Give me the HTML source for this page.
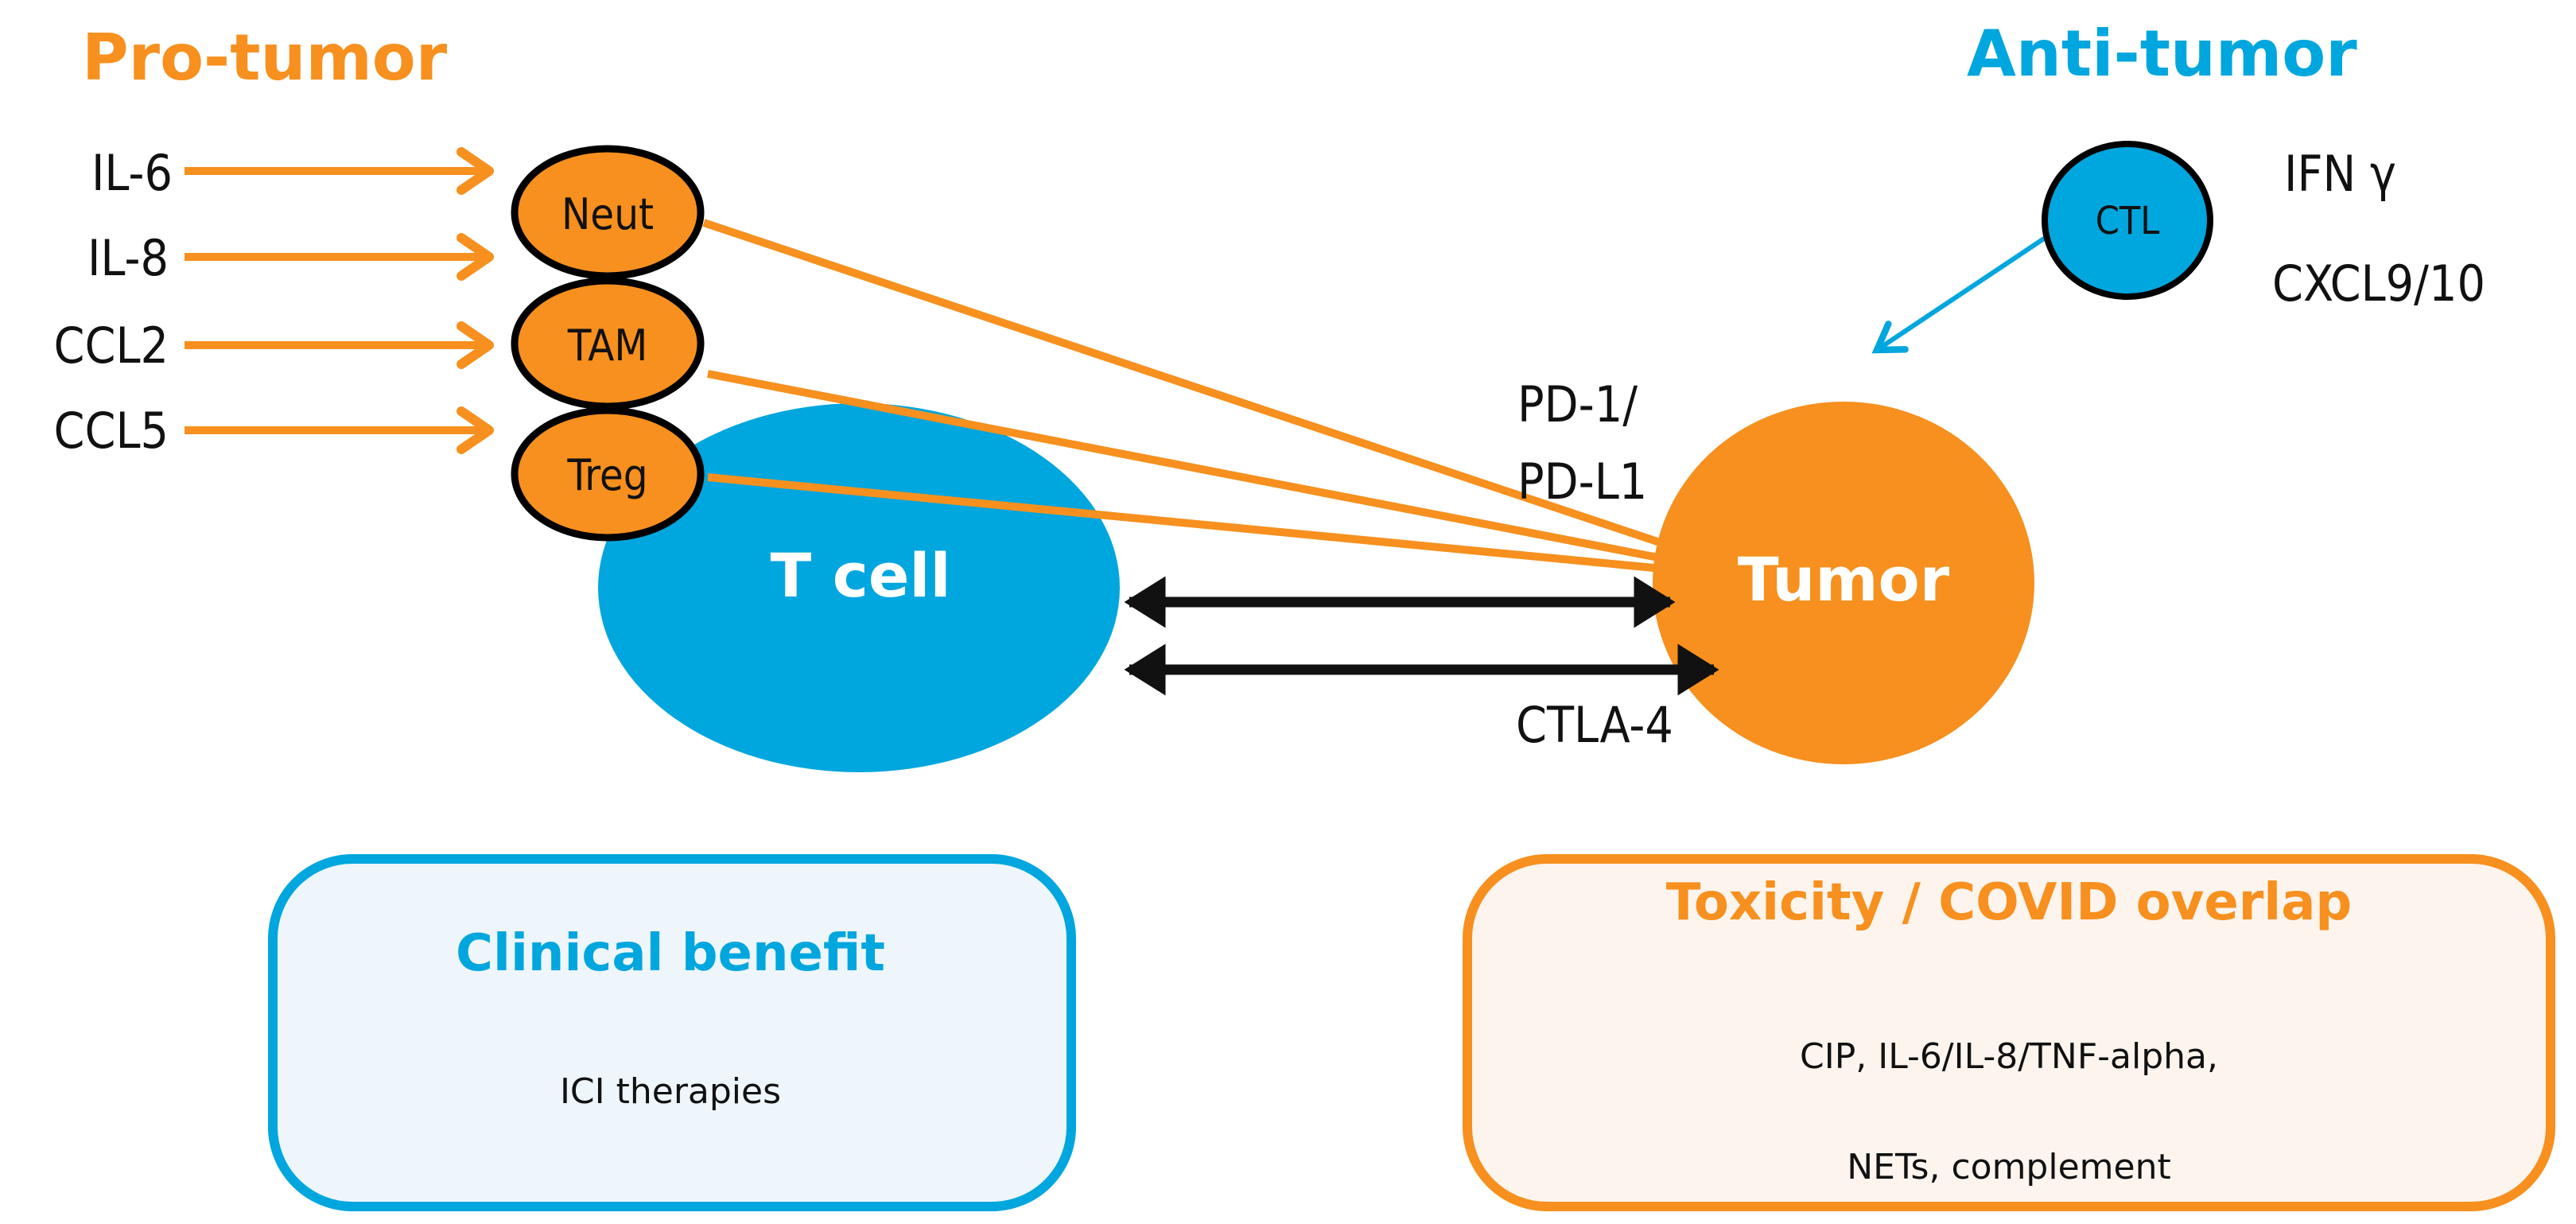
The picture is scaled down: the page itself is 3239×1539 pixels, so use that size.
<!DOCTYPE html>
<html><head><meta charset="utf-8"><style>
html,body{margin:0;padding:0;background:#fff;}
svg{display:block;}
text{font-family:"DejaVu Sans","Liberation Sans",sans-serif;}
.lb{font-size:62px;fill:#111;font-stretch:condensed;}
</style></head><body>
<svg width="3239" height="1539" viewBox="0 0 3239 1539" xmlns="http://www.w3.org/2000/svg">
<defs>
<marker id="oa" markerWidth="6" markerHeight="6" refX="4.5" refY="3" orient="auto" markerUnits="strokeWidth"><path d="M1,0.6 L4.5,3 L1,5.4" fill="none" stroke="#f7901e" stroke-width="1.2" stroke-linecap="round" stroke-linejoin="round"/></marker>
<marker id="ba" markerWidth="5" markerHeight="5" refX="4" refY="2.5" orient="auto-start-reverse" markerUnits="strokeWidth"><path d="M0.5,0 L4.5,2.5 L0.5,5 Z" fill="#111"/></marker>
<marker id="cb" markerWidth="8" markerHeight="8" refX="6" refY="4" orient="auto" markerUnits="strokeWidth"><path d="M1,0.8 L6,4 L1,7.2" fill="none" stroke="#00a6de" stroke-width="1.4" stroke-linecap="round"/></marker>
</defs>

<text x="103" y="100" font-size="80" font-weight="bold" fill="#f7901e">Pro-tumor</text>
<text x="2473" y="95" font-size="80" font-weight="bold" fill="#00a6de">Anti-tumor</text>

<text class="lb" x="217" y="239" text-anchor="end">IL-6</text>
<text class="lb" x="212" y="346" text-anchor="end">IL-8</text>
<text class="lb" x="212" y="456" text-anchor="end">CCL2</text>
<text class="lb" x="212" y="563" text-anchor="end">CCL5</text>

<g stroke="#f7901e" stroke-width="10" fill="none" marker-end="url(#oa)">
<line x1="232" y1="215" x2="615" y2="215"/>
<line x1="232" y1="323" x2="615" y2="323"/>
<line x1="232" y1="434" x2="615" y2="434"/>
<line x1="232" y1="541" x2="615" y2="541"/>
</g>

<ellipse cx="1080" cy="739" rx="328" ry="232" fill="#00a6de"/>
<text x="1082" y="750" font-size="76" font-weight="bold" fill="#fff" text-anchor="middle">T cell</text>

<ellipse cx="2318" cy="733" rx="240" ry="228" fill="#f7901e"/>
<text x="2318" y="755" font-size="76" font-weight="bold" fill="#fff" text-anchor="middle">Tumor</text>

<g stroke="#f7901e" stroke-width="10">
<line x1="885" y1="280" x2="2090" y2="683"/>
<line x1="890" y1="470" x2="2090" y2="702"/>
<line x1="890" y1="600" x2="2090" y2="715"/>
</g>

<g stroke="#000" stroke-width="9" fill="#f7901e">
<ellipse cx="764" cy="267" rx="117" ry="80"/>
<ellipse cx="764" cy="432" rx="117" ry="79"/>
<ellipse cx="764" cy="596" rx="117" ry="80"/>
</g>
<text x="764" y="288" font-size="54" fill="#111" text-anchor="middle" font-stretch="condensed">Neut</text>
<text x="764" y="453" font-size="54" fill="#111" text-anchor="middle" font-stretch="condensed">TAM</text>
<text x="764" y="616" font-size="54" fill="#111" text-anchor="middle" font-stretch="condensed">Treg</text>

<g stroke="#111" stroke-width="13" marker-start="url(#ba)" marker-end="url(#ba)">
<line x1="1420" y1="757" x2="2100" y2="757"/>
<line x1="1420" y1="842" x2="2155" y2="842"/>
</g>

<text class="lb" x="1908" y="530">PD-1/</text>
<text class="lb" x="1908" y="627">PD-L1</text>
<text class="lb" x="1906" y="933">CTLA-4</text>

<line x1="2585" y1="290" x2="2360" y2="440" stroke="#00a6de" stroke-width="6" marker-end="url(#cb)"/>
<ellipse cx="2675" cy="277" rx="104" ry="96" fill="#00a6de" stroke="#000" stroke-width="8"/>
<text x="2675" y="294" font-size="48" fill="#111" text-anchor="middle" font-stretch="condensed">CTL</text>
<text class="lb" x="2872" y="240">IFN γ</text>
<text class="lb" x="2857" y="378">CXCL9/10</text>

<rect x="343" y="1080" width="1004" height="437" rx="100" ry="100" fill="#eef6fb" stroke="#00a6de" stroke-width="12"/>
<text x="843" y="1220" font-size="64" font-weight="bold" fill="#00a6de" text-anchor="middle">Clinical benefit</text>
<text x="843" y="1387" font-size="44" fill="#111" text-anchor="middle">ICI therapies</text>

<rect x="1845" y="1080" width="1362" height="437" rx="100" ry="100" fill="#fdf4ee" stroke="#f7901e" stroke-width="12"/>
<text x="2526" y="1156" font-size="64" font-weight="bold" fill="#f7901e" text-anchor="middle">Toxicity / COVID overlap</text>
<text x="2526" y="1343" font-size="44" fill="#111" text-anchor="middle">CIP, IL-6/IL-8/TNF-alpha,</text>
<text x="2526" y="1482" font-size="44" fill="#111" text-anchor="middle">NETs, complement</text>
</svg>
</body></html>
